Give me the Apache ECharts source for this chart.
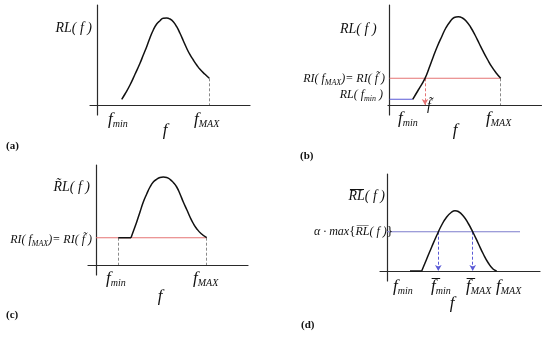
<!DOCTYPE html>
<html><head><meta charset="utf-8">
<script src="https://cdn.jsdelivr.net/npm/echarts@6/dist/echarts.min.js"></script>
<style>html,body{margin:0;padding:0;background:#fff}#c{width:550px;height:338px}</style>
</head><body><div id="c"></div>
<script>
// ---- data (units: arbitrary frequency / level scale, origin at axes crossing) ----
const curveA = [[2.42,0.57],[2.75,1.1],[3.25,2.0],[3.75,3.07],[4.25,4.17],[4.58,5.0],[4.92,5.83],[5.25,6.73],[5.58,7.5],[5.92,8.1],[6.25,8.43],[6.58,8.67],[6.92,8.7],[7.25,8.6],[7.58,8.33],[7.92,7.83],[8.25,7.17],[8.58,6.43],[8.92,5.67],[9.25,5.03],[9.58,4.5],[9.92,4.0],[10.25,3.57],[10.75,3.07],[11.18,2.67]];
const fMaxA = 11.18, rlMaxA = 2.67;

const curveB = [[2.32,0.57],[2.88,1.5],[3.55,2.67],[3.96,3.7],[4.38,4.83],[4.8,5.9],[5.22,6.83],[5.63,7.7],[6.05,8.33],[6.47,8.75],[6.88,8.83],[7.3,8.7],[7.72,8.33],[8.13,7.75],[8.55,7.0],[8.97,6.15],[9.38,5.33],[9.8,4.55],[10.22,3.83],[10.67,3.2],[11.12,2.67]];
const fMinB = 2.32, rlMinB = 0.57, fTildeB = 3.55, fMaxB = 11.12, rlMaxB = 2.67;

const flatC = [[2.23,2.73],[3.5,2.73]];
const curveC = [[3.5,2.73],[3.78,3.5],[4.07,4.3],[4.4,5.3],[4.73,6.3],[5.07,7.1],[5.4,7.8],[5.73,8.3],[6.07,8.57],[6.4,8.75],[6.73,8.8],[7.07,8.75],[7.4,8.57],[7.73,8.25],[8.07,7.8],[8.4,7.1],[8.73,6.3],[9.07,5.55],[9.4,4.8],[9.73,4.15],[10.07,3.63],[10.5,3.15],[11.07,2.73]];
const fMinC = 2.23, fMaxC = 11.07, rlMaxC = 2.73;

const flatD = [[2.3,0],[3.47,0]];
const curveD = [[3.47,0],[3.97,1.2],[4.47,2.4],[4.97,3.55],[5.47,4.6],[5.97,5.4],[6.47,5.9],[6.8,6.03],[7.13,5.95],[7.63,5.5],[8.13,4.75],[8.63,3.8],[9.13,2.75],[9.63,1.7],[10.13,0.8],[10.6,0.2],[10.97,0]];
const alphaLevelD = 3.93, fBarMinD = 5.13, fBarMaxD = 8.57, levelEndD = 13.3;

// ---- layout ----
const grids = [
  {left:90, top:5, width:160, height:110, xmin:-0.75, xmax:15.25, ymin:-1, ymax:10},
  {left:388, top:5, width:153.5, height:110, xmin:-0.15, xmax:15.2, ymin:-1, ymax:10},
  {left:88, top:165, width:160, height:110, xmin:-0.8, xmax:15.2, ymin:-1, ymax:10},
  {left:380, top:174, width:160, height:107, xmin:-0.7, xmax:15.3, ymin:-1, ymax:9.7}
];
const AX = '#2a2a2a', RED = '#e57373', BLUE = '#7d7dcc', BLUE2 = '#5a5ad6', GRAY = '#8a8a8a';

const axisCommon = {type:'value', axisTick:{show:false}, axisLabel:{show:false}, splitLine:{show:false},
  axisLine:{show:true, onZero:true, lineStyle:{color:AX, width:1.2}}};

const xAxis = grids.map((g,i)=>Object.assign({}, axisCommon, {gridIndex:i, min:g.xmin, max:g.xmax}));
const yAxis = grids.map((g,i)=>Object.assign({}, axisCommon, {gridIndex:i, min:g.ymin, max:g.ymax}));

function vline(x, y, color, arrow){
  return [{coord:[x,y], symbol:'none'}, {coord:[x,0], symbol: arrow?'arrow':'none', symbolSize: arrow?[5,6]:0}];
}
function curve(i, data){
  return {type:'line', xAxisIndex:i, yAxisIndex:i, data, smooth:0.5, showSymbol:false, silent:true,
    lineStyle:{color:'#111', width:1.5}, z:5};
}
function seg(i, data, color, w, type){
  return {type:'line', xAxisIndex:i, yAxisIndex:i, data, showSymbol:false, silent:true,
    lineStyle:{color, width:w||1, type:type||'solid'}, z:3};
}
function marks(i, lines, color, w){
  return {type:'line', xAxisIndex:i, yAxisIndex:i, data:[], silent:true,
    markLine:{silent:true, symbol:'none', label:{show:false}, animation:false,
      lineStyle:{color, type:[3,2], width:w||1}, data:lines}};
}

const series = [
  // (a)
  curve(0, curveA),
  marks(0, [vline(fMaxA, rlMaxA)], GRAY),
  // (b)
  seg(1, [[0,rlMaxB],[fMaxB,rlMaxB]], RED, 1.1),
  seg(1, [[0,rlMinB],[fMinB,rlMinB]], BLUE2, 1.1),
  curve(1, curveB),
  marks(1, [vline(fMaxB, rlMaxB)], GRAY),
  marks(1, [vline(fTildeB, rlMaxB, RED, true)], RED),
  // (c)
  seg(2, [[0,rlMaxC],[fMaxC,rlMaxC]], RED, 1.1),
  Object.assign(seg(2, flatC, '#111', 1.5), {z:5}),
  curve(2, curveC),
  marks(2, [vline(fMinC, rlMaxC), vline(fMaxC, rlMaxC)], GRAY),
  // (d)
  seg(3, [[0,alphaLevelD],[levelEndD,alphaLevelD]], BLUE, 1.1),
  Object.assign(seg(3, flatD, '#111', 1.5), {z:5}),
  curve(3, curveD),
  marks(3, [vline(fBarMinD, alphaLevelD, BLUE, true), vline(fBarMaxD, alphaLevelD, BLUE, true)], BLUE2)
];

const SERIF = '"Liberation Serif","DejaVu Serif",serif';
const rich = {
  n:{fontFamily:SERIF, fontStyle:'italic', fontSize:12, lineHeight:18, verticalAlign:'middle', fill:'#111'},
  N:{fontFamily:SERIF, fontStyle:'italic', fontSize:14, lineHeight:20, verticalAlign:'middle', fill:'#111'},
  F:{fontFamily:SERIF, fontStyle:'italic', fontSize:17, lineHeight:22, verticalAlign:'middle', fill:'#111'},
  s:{fontFamily:SERIF, fontStyle:'italic', fontSize:8, lineHeight:18, verticalAlign:'bottom', fill:'#111', padding:[0,0,1,0]},
  S:{fontFamily:SERIF, fontStyle:'italic', fontSize:10, lineHeight:22, verticalAlign:'bottom', fill:'#111', padding:[0,0,2,0]}
};
function txt(x, y, text, align){
  return {type:'text', x, y, silent:true, z:10,
    style:{text, rich, textAlign:align||'left', textVerticalAlign:'middle', fill:'#111',
      font:'13px '+SERIF, lineHeight:18}};
}
function panelTag(x, y, t){
  return {type:'text', x, y, silent:true, style:{text:t, font:'bold 11px '+SERIF, fill:'#111', textVerticalAlign:'middle'}};
}
const graphic = [
  // (a)
  txt(92, 28, '{N|RL( f )}', 'right'),
  txt(108, 120, '{F|f}{S|min}'),
  txt(194, 120, '{F|f}{S|MAX}'),
  txt(165, 131, '{F|f}', 'center'),
  panelTag(6, 146, '(a)'),
  // (b)
  txt(340, 29, '{N|RL( f )}'),
  txt(385, 79, '{n|RI( f}{s|MAX}{n|)= RI( f\u0303 )}', 'right'),
  txt(383, 95, '{n|RL( f}{s|min}{n| )}', 'right'),
  txt(429, 106, '{N|f\u0303}', 'center'),
  txt(398, 119, '{F|f}{S|min}'),
  txt(486, 119, '{F|f}{S|MAX}'),
  txt(455, 131, '{F|f}', 'center'),
  panelTag(300, 156, '(b)'),
  // (c)
  txt(90, 187, '{N|R\u0303L( f )}', 'right'),
  txt(92, 240, '{n|RI( f}{s|MAX}{n|)= RI( f\u0303 )}', 'right'),
  txt(106, 279, '{F|f}{S|min}'),
  txt(193, 279, '{F|f}{S|MAX}'),
  txt(160, 297, '{F|f}', 'center'),
  panelTag(6, 315, '(c)'),
  // (d)
  txt(385, 196, '{N|R\u0305L\u0305( f )}', 'right'),
  txt(393, 232, '{n|\u03b1 \u00b7 max}{{n|R\u0305L\u0305( f )}}', 'right'),
  txt(393, 287, '{F|f}{S|min}'),
  txt(431, 287, '{F|f\u0305}{S|min}'),
  txt(466, 287, '{F|f\u0305}{S|MAX}'),
  txt(496, 287, '{F|f}{S|MAX}'),
  txt(452, 304, '{F|f}', 'center'),
  panelTag(301, 325, '(d)')
];

const chart = echarts.init(document.getElementById('c'), null, {renderer:'canvas'});
chart.setOption({
  animation:false,
  grid: grids.map(g=>({left:g.left, top:g.top, width:g.width, height:g.height})),
  xAxis, yAxis, series, graphic
});
</script></body></html>
